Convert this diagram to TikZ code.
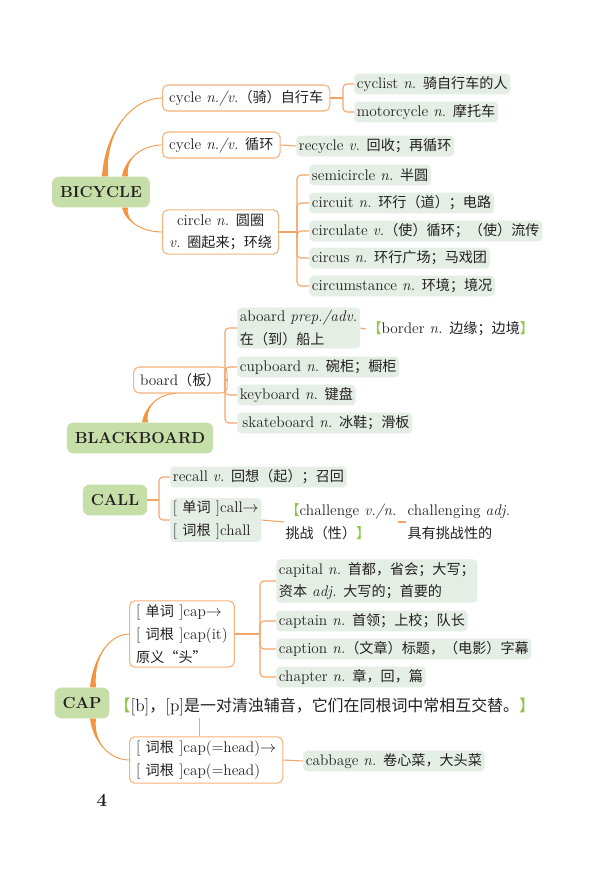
\documentclass[tikz,border=0pt]{standalone}
\usepackage{fontspec}
\newfontfamily\cjk[Scale=0.92]{Noto Sans CJK SC}
\newcommand{\zh}[1]{{\cjk #1}}
\newcommand{\rootmark}[1]{[\hspace{4pt}\zh{#1}\hspace{4pt}]}
\usetikzlibrary{calc}
\definecolor{maingreen}{HTML}{C6DEA8}
\definecolor{leafgreen}{HTML}{E4EEE4}
\definecolor{boxorange}{HTML}{F5B27C}
\definecolor{linkorange}{HTML}{F3A468}
\definecolor{branchorange}{HTML}{F39440}
\definecolor{bracketgreen}{HTML}{8DC642}
\definecolor{ink}{HTML}{231F20}
\tikzstyle{mainnode} = [rectangle, rounded corners=5pt, fill=maingreen, font=\fontsize{12}{14}\selectfont\bfseries, inner xsep=6pt, minimum height=23pt]
\tikzstyle{box} = [rectangle, rounded corners=4pt, draw=boxorange, line width=0.8pt, fill=white, anchor=west, align=left, inner xsep=5pt, inner ysep=3pt, minimum height=19.5pt]
\tikzstyle{leaf} = [rectangle, rounded corners=3pt, fill=leafgreen, anchor=west, align=left, inner xsep=2pt, inner ysep=2pt, minimum height=15.5pt]
\tikzstyle{plain} = [anchor=west, align=left, inner sep=1pt]
\tikzstyle{link} = [draw=linkorange, line width=0.8pt]
\tikzstyle{fork} = [link, rounded corners=3pt]
\tikzstyle{branch} = [fill=branchorange]
% tapered curve from a start point (top/bottom of a main node) to a box
\newcommand{\branchto}[2]{%
  \fill[branch] ($(#1)+(-3,0)$) .. controls ($(#1)!0.6!(#1 |- #2)$) and ($(#2)!0.5!(#1 |- #2)$) .. (#2)
    .. controls ($(#2)!0.5!(#1 |- #2)$) and ($(#1)!0.6!(#1 |- #2)$) .. ($(#1)+(3,0)$) -- cycle;
  \draw[draw=branchorange, line width=0.6pt] (#1) .. controls ($(#1)!0.6!(#1 |- #2)$) and ($(#2)!0.5!(#1 |- #2)$) .. (#2);}

\begin{document}
\begin{tikzpicture}[x=0.75pt, y={(0,-0.75pt)}, font=\fontsize{11.5}{17}\selectfont, text=ink]
\useasboundingbox (0,0) rectangle (591,874);

% BICYCLE
\node (bicycle) [mainnode] at (101,192) {BICYCLE};
\node (cyc1) [box] at (162,98) {cycle \textit{n./v.}\zh{（骑）自行车}};
\node (cyc2) [box] at (162,145) {cycle \textit{n./v.} \zh{循环}};
\node (circ) [box, align=center] at (162,232) {circle \textit{n.} \zh{圆圈}\\\textit{v.} \zh{圈起来；环绕}};
\node (cyclist) [leaf] at (354,84) {cyclist \textit{n.} \zh{骑自行车的人}};
\node (motorcycle) [leaf] at (354,112) {motorcycle \textit{n.} \zh{摩托车}};
\node (recycle) [leaf] at (296,146) {recycle \textit{v.} \zh{回收；再循环}};
\node (semi) [leaf] at (309,175) {semicircle \textit{n.} \zh{半圆}};
\node (circuit) [leaf] at (309,203) {circuit \textit{n.} \zh{环行（道）；电路}};
\node (circulate) [leaf] at (309,231) {circulate \textit{v.}\zh{（使）循环；（使）流传}};
\node (circus) [leaf] at (309,258) {circus \textit{n.} \zh{环行广场；马戏团}};
\node (circum) [leaf] at (309,286) {circumstance \textit{n.} \zh{环境；境况}};

\coordinate (bicn1) at ($(bicycle.north)+(4,0)$);
\coordinate (bicn2) at ($(bicycle.north)+(24,0)$);
\coordinate (bics) at ($(bicycle.south)+(24,0)$);
\branchto{bicn1}{cyc1.west}
\branchto{bicn2}{cyc2.west}
\branchto{bics}{circ.west}

\coordinate (cyc1f) at (343,98);
\draw[link] (cyc1.east) -- (cyc1f);
\draw[fork] (cyc1f) |- (cyclist.west);
\draw[fork] (cyc1f) |- (motorcycle.west);
\draw[link] (cyc2.east) -- (recycle.west);
\coordinate (circf) at (297,232);
\draw[link] (circ.east) -- (circf);
\draw[fork] (circf) |- (semi.west);
\draw[fork] (circf) |- (circuit.west);
\draw[fork] (circf) |- (circulate.west);
\draw[fork] (circf) |- (circus.west);
\draw[fork] (circf) |- (circum.west);

% BLACKBOARD
\node (blackboard) [mainnode] at (140,438) {BLACKBOARD};
\node (board) [box] at (133,380) {board\zh{（板）}};
\node (aboard) [leaf] at (237,328) {aboard \textit{prep./adv.}\\\zh{在（到）船上}};
\node (cupboard) [leaf] at (237,367) {cupboard \textit{n.} \zh{碗柜；橱柜}};
\node (keyboard) [leaf] at (237,395) {keyboard \textit{n.} \zh{键盘}};
\node (skateboard) [leaf] at (237,423) {\,skateboard \textit{n.} \zh{冰鞋；滑板}};
\node (border) [plain] at (366,329) {\zh{\textcolor{bracketgreen}{【}}border \textit{n.} \zh{边缘；边境\textcolor{bracketgreen}{】}}};

\coordinate (bbn) at ($(blackboard.north)+(5,0)$);
\coordinate (boards) at ($(board.south)+(-5,0)$);
\branchto{bbn}{boards}
\coordinate (boardf) at (225,380);
\draw[link] (board.east) -- (boardf);
\draw[fork] (boardf) |- (aboard.west);
\draw[fork] (boardf) |- (cupboard.west);
\draw[fork] (boardf) |- (keyboard.west);
\draw[fork] (boardf) |- (skateboard.west);
\draw[link] (aboard.east) -- (border.west);

% CALL
\node (call) [mainnode] at (115,500) {CALL};
\node (recall) [leaf] at (170,477) {recall \textit{v.} \zh{回想（起）；召回}};
\node (callroot) [leaf] at (170,520) {\rootmark{单词}call$\rightarrow$\\\rootmark{词根}chall};
\node (challenge) [plain] at (284,522) {\zh{\textcolor{bracketgreen}{【}}challenge \textit{v./n.}\\\zh{挑战（性）\textcolor{bracketgreen}{】}}};
\node (challenging) [plain] at (406,522) {challenging \textit{adj.}\\\zh{具有挑战性的}};

\coordinate (callf) at (159,500);
\draw[link] (call.east) -- (callf);
\draw[fork] (callf) |- (recall.west);
\draw[fork] (callf) |- (callroot.west);
\draw[link] (callroot.east) -- (challenge.west);
\draw[link] (challenge.east) -- (challenging.west);

% CAP
\node (cap) [mainnode] at (82,703) {CAP};
\node (caproot) [box] at (129,634) {\rootmark{单词}cap$\rightarrow$\\\rootmark{词根}cap(it)\\\zh{原义“头”}};
\node (headroot) [box] at (129,760) {\rootmark{词根}cap(=head)$\rightarrow$\\\rootmark{词根}cap(=head)};
\node (note) [plain, font=\fontsize{13}{15}\selectfont] at (113,707) {\zh{\textcolor{bracketgreen}{【}}[b]\zh{，}[p]\zh{是一对清浊辅音，它们在同根词中常相互交替。\textcolor{bracketgreen}{】}}};
\node (capital) [leaf] at (276,581) {capital \textit{n.} \zh{首都，省会；大写；}\\\zh{资本} \textit{adj.} \zh{大写的；首要的}};
\node (captain) [leaf] at (276,621) {captain \textit{n.} \zh{首领；上校；队长}};
\node (caption) [leaf] at (276,649) {caption \textit{n.}\zh{（文章）标题，（电影）字幕}};
\node (chapter) [leaf] at (276,677) {chapter \textit{n.} \zh{章，回，篇}};
\node (cabbage) [leaf] at (303,761) {cabbage \textit{n.} \zh{卷心菜，大头菜}};
\node (pagenum) [font=\fontsize{14}{16}\selectfont\bfseries] at (102,800) {4};

\coordinate (capn) at ($(cap.north)+(11,0)$);
\coordinate (caps) at ($(cap.south)+(11,0)$);
\branchto{capn}{caproot.west}
\branchto{caps}{headroot.west}
\coordinate (caprootf) at (260,634);
\draw[link] (caproot.east) -- (caprootf);
\draw[fork] (caprootf) |- (capital.west);
\draw[fork] (caprootf) |- (captain.west);
\draw[fork] (caprootf) |- (caption.west);
\draw[fork] (caprootf) |- (chapter.west);
\coordinate (headn) at ($(headroot.north)+(-7,0)$);
\draw[link] (headn) -- (headn |- note.south);
\draw[link] (headroot.east) -- (cabbage.west);
\end{tikzpicture}
\end{document}
